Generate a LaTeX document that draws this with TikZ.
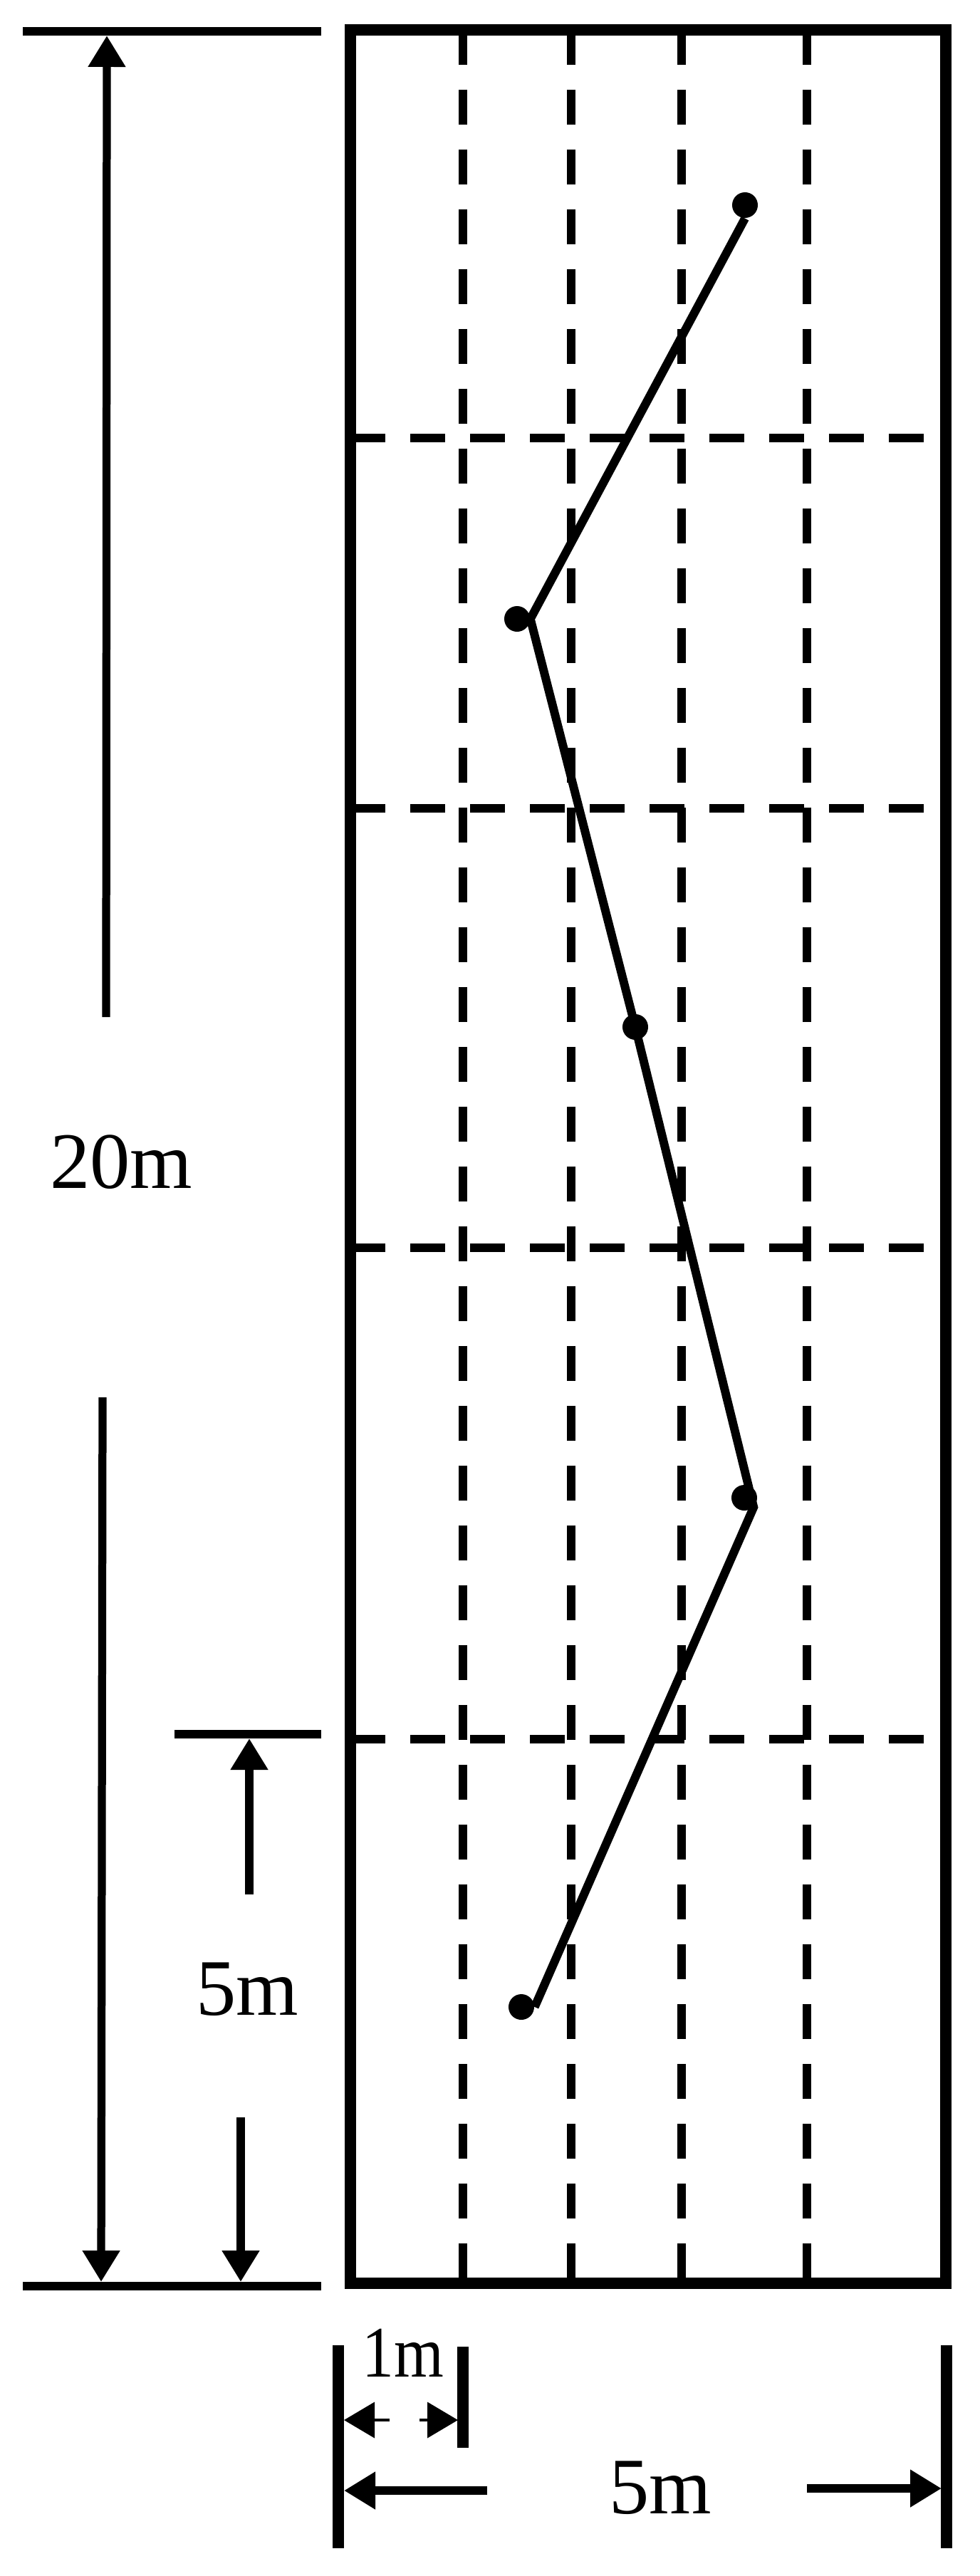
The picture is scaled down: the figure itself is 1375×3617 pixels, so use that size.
\documentclass[tikz,border=0pt]{standalone}
\usepackage{fontspec}
\setmainfont{Liberation Serif}
\usetikzlibrary{arrows.meta}

\begin{document}
\begin{tikzpicture}[x=0.1mm,y=-0.1mm,
    wall/.style={line width=4.3pt},
    grid/.style={line width=3.4pt,dash pattern=on 4.9mm off 3.5mm},
    track/.style={line width=3.4pt},
    dimline/.style={line width=3.4pt},
    dimarrow/.style={line width=3.2pt,-{Triangle[length=4.4mm,width=5mm]}},
    thinarrow/.style={line width=1.1pt,-{Triangle[length=4.3mm,width=5mm]}},
    tick/.style={line width=4.3pt},
    stone/.style={circle,fill,inner sep=0pt,minimum size=3.6mm},
    lbl/.style={inner sep=0pt,anchor=base,font=\fontsize{32}{38}\selectfont},
    smalllbl/.style={inner sep=0pt,anchor=base,font=\fontsize{29}{34}\selectfont}]
\useasboundingbox (0,0) rectangle (1375,3617);

% dashed grid inside the plot
\draw[grid] (650,42) -- (650,3206);
\draw[grid] (802,42) -- (802,3206);
\draw[grid] (957,42) -- (957,3206);
\draw[grid] (1133,42) -- (1133,3206);
\draw[grid] (492,615) -- (1328,615);
\draw[grid] (492,1135) -- (1328,1135);
\draw[grid] (492,1752) -- (1328,1752);
\draw[grid] (492,2442) -- (1328,2442);

% plot outline
\draw[wall] (492,42) rectangle (1328,3206);

% sampling points
\node[stone] (p1) at (1046,288) {};
\node[stone] (p2) at (726,869) {};
\node[stone] (p3) at (892,1442) {};
\node[stone] (p4) at (1045,2103) {};
\node[stone] (p5) at (732,2818) {};
\draw[track] (p1.south) -- (p2.east) -- (p3.center) -- (p4.south east) -- (p5.east);

% 20m dimension
\coordinate (topl) at (32,44);
\coordinate (topr) at (451,44);
\coordinate (botl) at (32,3210);
\coordinate (botr) at (451,3210);
\draw[dimline] (topl) -- (topr);
\draw[dimline] (botl) -- (botr);
\node[lbl] (twenty) at (170,1668) {20m};
\coordinate (up1) at (149,1428);
\coordinate (up1tip) at (150,50);
\coordinate (dn1) at (144,1962);
\coordinate (dn1tip) at (142,3204);
\draw[dimarrow] (up1) -- (up1tip);
\draw[dimarrow] (dn1) -- (dn1tip);

% 5m dimension
\coordinate (midl) at (245,2435);
\coordinate (midr) at (451,2435);
\draw[dimline] (midl) -- (midr);
\node[lbl] (fivev) at (347,2829) {5m};
\coordinate (up2) at (350,2660);
\coordinate (up2tip) at (350,2441);
\coordinate (dn2) at (338,2973);
\coordinate (dn2tip) at (338,3204);
\draw[dimarrow] (up2) -- (up2tip);
\draw[dimarrow] (dn2) -- (dn2tip);

% width dimensions
\coordinate (tka) at (475,3293);
\coordinate (tkb) at (475,3578);
\coordinate (tkc) at (650,3295);
\coordinate (tkd) at (650,3437);
\coordinate (tke) at (1329,3293);
\coordinate (tkf) at (1329,3578);
\draw[tick] (tka) -- (tkb);
\draw[tick] (tkc) -- (tkd);
\draw[tick] (tke) -- (tkf);
\node[smalllbl] (one) at (566,3337) {\scalebox{0.88}[1]{1m}};
\coordinate (oa) at (547,3398);
\coordinate (oatip) at (483,3398);
\coordinate (ob) at (589,3398);
\coordinate (obtip) at (643,3398);
\draw[thinarrow] (oa) -- (oatip);
\draw[thinarrow] (ob) -- (obtip);
\node[lbl] (fiveh) at (927,3529) {5m};
\coordinate (fa) at (684,3497);
\coordinate (fatip) at (483,3497);
\coordinate (fb) at (1133,3494);
\coordinate (fbtip) at (1322,3494);
\draw[dimarrow] (fa) -- (fatip);
\draw[dimarrow] (fb) -- (fbtip);
\end{tikzpicture}
\end{document}
